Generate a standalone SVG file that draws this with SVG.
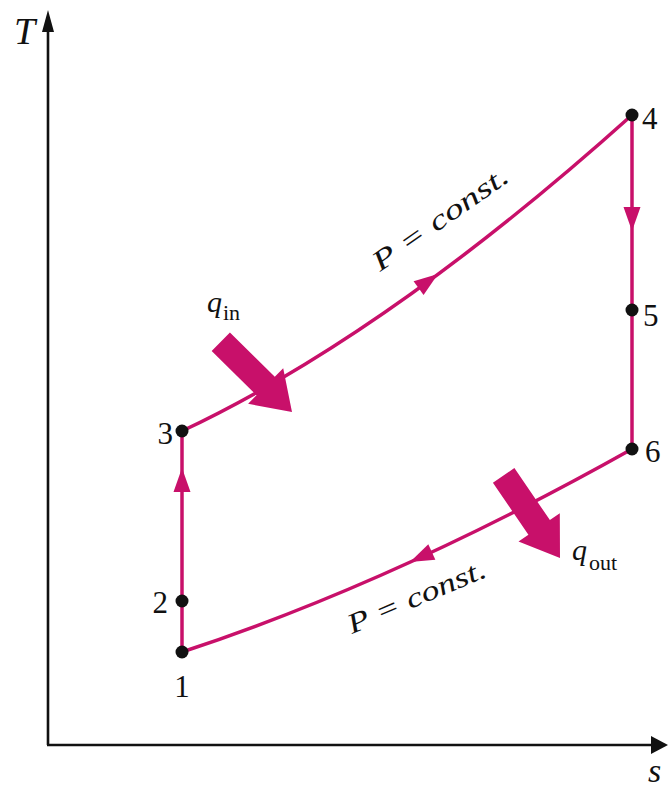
<svg xmlns="http://www.w3.org/2000/svg" width="669" height="790" viewBox="0 0 669 790">
<style>
.ax{stroke:#111;stroke-width:2.6;fill:none}
.axh{fill:#111}
.cv{stroke:#c8106a;stroke-width:3.5;fill:none}
.mg{fill:#c8106a}
.dot{fill:#111}
.num{font-family:"Liberation Serif",serif;font-size:31px;fill:#111}
.it{font-family:"Liberation Serif",serif;font-style:italic;fill:#111}
.sub{font-family:"Liberation Serif",serif;font-size:22px;fill:#111}
</style>
<defs>
<path id="ah" d="M0,0 L-24,-8.5 L-24,8.5 Z"/>
<path id="blk" d="M0,0 L-37,-25 L-37,-13 L-100,-13 L-100,13 L-37,13 L-37,25 Z"/>
</defs>
<g id="axes">
<line class="ax" x1="48" y1="745" x2="48" y2="22"/>
<path class="axh" d="M48,10 L42,32 L54,32 Z"/>
<line class="ax" x1="47" y1="745" x2="656" y2="745"/>
<path class="axh" d="M668,745 L651,736 L651,754 Z"/>
<text class="it" x="14" y="44" font-size="38">T</text>
<text class="it" x="648" y="782" font-size="34">s</text>
</g>
<g id="connectors">
<line class="cv" x1="182" y1="652" x2="182" y2="431"/>
<path class="cv" d="M182,431 Q388,334 632,115"/>
<line class="cv" x1="632" y1="115" x2="632" y2="449"/>
<path class="cv" d="M632,449 Q395,582 182,652"/>
<use href="#ah" class="mg" transform="translate(182,468) rotate(-90)"/>
<use href="#ah" class="mg" transform="translate(438,274) rotate(-36)"/>
<use href="#ah" class="mg" transform="translate(632,231) rotate(90)"/>
<use href="#ah" class="mg" transform="translate(410,562) rotate(155.5)"/>
</g>
<g id="q-in">
<use href="#blk" class="mg" transform="translate(292,412) rotate(44.6)"/>
<text class="it" x="207" y="312" font-size="30">q</text>
<text class="sub" x="223" y="320">in</text>
</g>
<g id="q-out">
<use href="#blk" class="mg" transform="translate(560,558) rotate(55.7)"/>
<text class="it" x="572" y="560" font-size="30">q</text>
<text class="sub" x="589" y="570">out</text>
</g>
<g id="label-upper">
<text class="it" font-size="28" transform="translate(380,272) rotate(-35)" textLength="160" lengthAdjust="spacingAndGlyphs">P = const.</text>
</g>
<g id="label-lower">
<text class="it" font-size="28" transform="translate(352,634) rotate(-23)" textLength="148" lengthAdjust="spacingAndGlyphs">P = const.</text>
</g>
<g id="p1"><circle class="dot" cx="182" cy="652" r="6.5"/><text class="num" x="182" y="697" text-anchor="middle">1</text></g>
<g id="p2"><circle class="dot" cx="182" cy="601" r="6.5"/><text class="num" x="168" y="613" text-anchor="end">2</text></g>
<g id="p3"><circle class="dot" cx="182" cy="431" r="6.5"/><text class="num" x="173" y="444" text-anchor="end">3</text></g>
<g id="p4"><circle class="dot" cx="632" cy="115" r="6.5"/><text class="num" x="642" y="129">4</text></g>
<g id="p5"><circle class="dot" cx="632" cy="310" r="6.5"/><text class="num" x="643" y="326">5</text></g>
<g id="p6"><circle class="dot" cx="632" cy="449" r="6.5"/><text class="num" x="645" y="462">6</text></g>
</svg>
